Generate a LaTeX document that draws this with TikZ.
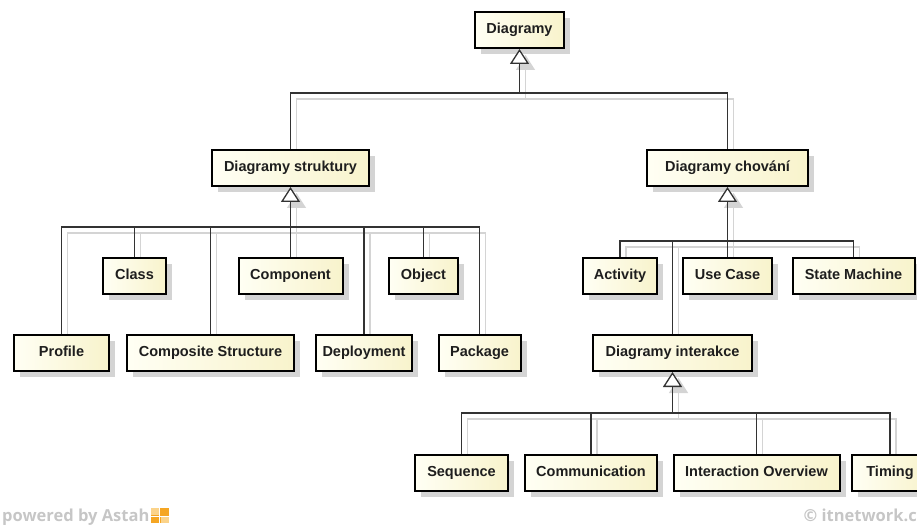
\documentclass[tikz,border=0pt]{standalone}
\usepackage{fontspec}
\setmainfont{Liberation Sans}
\newfontfamily\footfont{Open Sans}
\usetikzlibrary{arrows.meta,shadows}
\definecolor{boxL}{HTML}{FFFFF4}
\definecolor{boxR}{HTML}{F8F3CC}
\definecolor{shd}{HTML}{D4D4D4}
\definecolor{lineC}{HTML}{333333}
\definecolor{txt}{HTML}{1E1E1E}
\definecolor{foot}{HTML}{C6C6C6}
\definecolor{logoA}{HTML}{F5A623}
\definecolor{logoB}{HTML}{FBD38A}
\pgfdeclarelayer{background}
\pgfsetlayers{background,main}
\newcommand{\connectors}[2]{%
  \draw[conn=#1] (ds.north) |- (b1) -| (dc.north);
  \draw[conn=#1, gen=#2] (b1) -- (d.south);
  \draw[conn=#1] (prof.north) |- (b2) -| (pkg.north);
  \draw[conn=#1] (cls.north) -- (cls.north |- b2);
  \draw[conn=#1] (cs.north) -- (cs.north |- b2);
  \draw[conn=#1] (comp.north) -- (comp.north |- b2);
  \draw[conn=#1] (dep.north) -- (dep.north |- b2);
  \draw[conn=#1] (obj.north) -- (obj.north |- b2);
  \draw[conn=#1, gen=#2] (b2) -- (ds.south);
  \draw[conn=#1] (act.north) |- (b3) -| (sm.north);
  \draw[conn=#1] (uc.north) -- (uc.north |- b3);
  \draw[conn=#1] (di.north) -- (di.north |- b3);
  \draw[conn=#1, gen=#2] (b3) -- (dc.south);
  \draw[conn=#1] (seq.north) |- (b4) -| (tim.north);
  \draw[conn=#1] (com.north) -- (com.north |- b4);
  \draw[conn=#1] (io.north) -- (io.north |- b4);
  \draw[conn=#1, gen=#2] (b4) -- (di.south);
}
\begin{document}
\begin{tikzpicture}[x=1pt,y=-1pt,
  cls/.style={draw=black, line width=2pt, left color=boxL, right color=boxR,
    general shadow={shadow xshift=6pt, shadow yshift=-6pt, fill=shd},
    minimum height=36pt, inner sep=0pt, text=txt,
    text height=10.5pt, text depth=3pt,
    font=\bfseries\fontsize{14.5}{16}\selectfont},
  conn/.style={draw=#1, line width=1.3pt},
  gen/.style={-{Triangle[length=15pt,width=19pt,fill=#1]}},
  footer/.style={text=foot, inner sep=0pt, font=\footfont\bfseries\fontsize{16.5}{16.5}\selectfont}
]
\useasboundingbox (0,0) rectangle (917,526);
\clip (0,0) rectangle (917,526);

% boxes
\node[cls, minimum width=89pt]  (d)    at (519.5,30)  {Diagramy};
\node[cls, minimum width=157pt] (ds)   at (290.5,168) {Diagramy struktury};
\node[cls, minimum width=161pt] (dc)   at (727.5,168) {Diagramy chování};
\node[cls, minimum width=63pt]  (cls)  at (134.5,276) {Class};
\node[cls, minimum width=104pt] (comp) at (290.5,276) {Component};
\node[cls, minimum width=69pt]  (obj)  at (423.5,276) {Object};
\node[cls, minimum width=95pt]  (prof) at (61.5,353)  {Profile};
\node[cls, minimum width=167pt] (cs)   at (210.5,353) {Composite Structure};
\node[cls, minimum width=96pt]  (dep)  at (364,353)   {Deployment};
\node[cls, minimum width=82pt]  (pkg)  at (479.5,353) {Package};
\node[cls, minimum width=74pt]  (act)  at (620,276)   {Activity};
\node[cls, minimum width=89pt]  (uc)   at (727.5,276) {Use Case};
\node[cls, minimum width=122pt] (sm)   at (853.5,276) {State Machine};
\node[cls, minimum width=159pt] (di)   at (672.5,353) {Diagramy interakce};
\node[cls, minimum width=93pt]  (seq)  at (461.5,473) {Sequence};
\node[cls, minimum width=132pt] (com)  at (591,473)   {Communication};
\node[cls, minimum width=166pt] (io)   at (756.5,473) {Interaction Overview};
\node[cls, minimum width=76pt]  (tim)  at (890,473)   {Timing};

% bus coordinates
\coordinate (b1) at (519.5,93);
\coordinate (b2) at (290.5,227);
\coordinate (b3) at (727.5,241);
\coordinate (b4) at (672.5,413);

\begin{pgfonlayer}{background}
  \begin{scope}[transform canvas={shift={(6pt,-6pt)}}]
    \connectors{shd}{shd}
  \end{scope}
\end{pgfonlayer}
\connectors{lineC}{white}

% footer
\node[footer, anchor=base west] (pw) at (2,521) {powered by Astah};
\begin{scope}
  \fill[logoA] (pw.base east) ++(1,-13) rectangle ++(18,15);
  \fill[logoB] (pw.base east) ++(1,-13) rectangle ++(8,7);
  \fill[logoB] (pw.base east) ++(11,-4) rectangle ++(8,6);
  \draw[white, line width=0.8pt] (pw.base east) ++(1,-5) -- ++(18,0);
  \draw[white, line width=0.8pt] (pw.base east) ++(10,-13) -- ++(0,15);
\end{scope}
\node[footer, anchor=base east] (itn) at (917,521) {© itnetwork.c};
\end{tikzpicture}
\end{document}
